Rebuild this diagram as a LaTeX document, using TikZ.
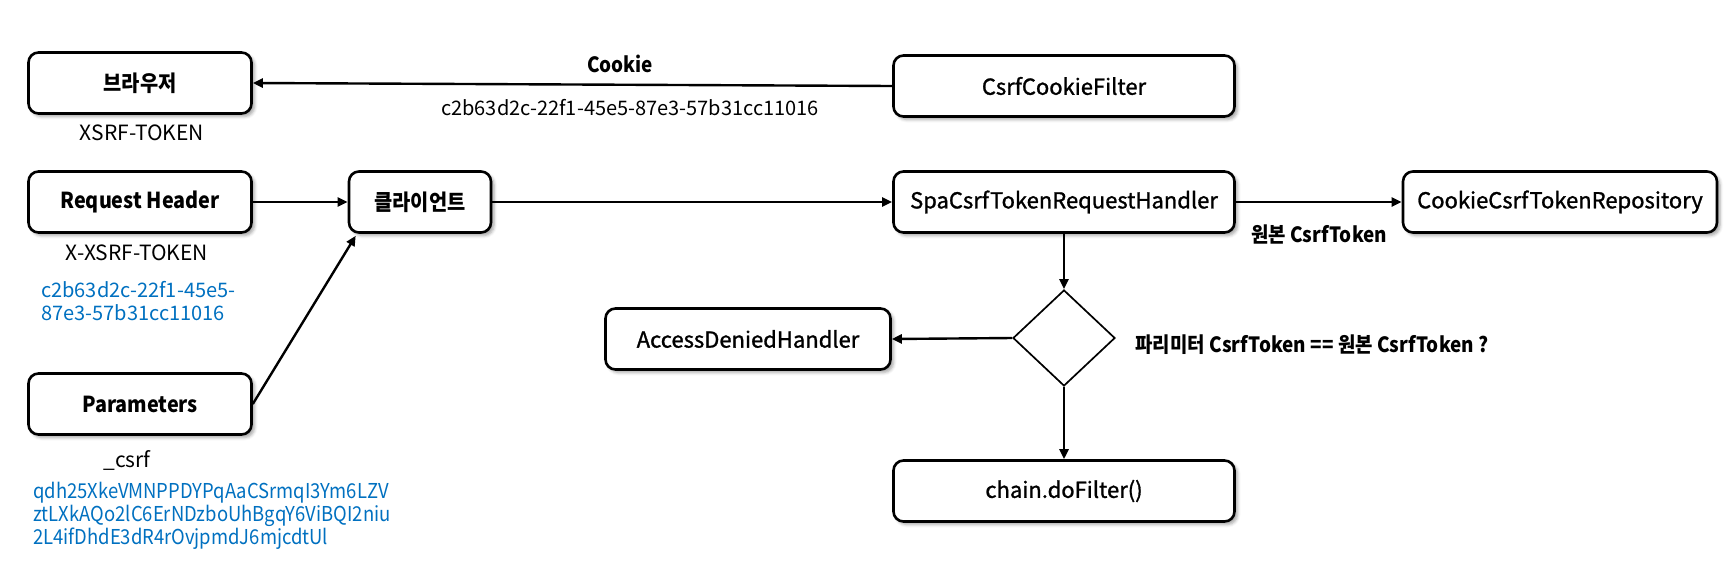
\documentclass[tikz,border=0pt]{standalone}
\usepackage{fontspec}
\setmainfont{Noto Sans CJK KR}
\newfontfamily\narrowfont{Noto Sans CJK KR}[FakeStretch=0.9]
\newfontfamily\medfont{Noto Sans CJK KR}[FakeBold=1.2]
\usetikzlibrary{arrows.meta,shapes.geometric,shadows.blur}
\definecolor{hashblue}{RGB}{0,112,192}
\begin{document}
\begin{tikzpicture}[x=1pt,y=-1pt,
  box/.style={draw, line width=2.6pt, rounded corners=10pt, fill=white, inner sep=0pt,
    font=\medfont\fontsize{22}{26}\selectfont,
    blur shadow={shadow xshift=3pt, shadow yshift=-3pt, shadow blur radius=3pt, shadow opacity=35}},
  bbox/.style={box, font=\narrowfont\fontsize{22}{26}\selectfont\bfseries},
  arr/.style={line width=2.4pt, -{Triangle[length=10pt,width=9pt]}},
  lbl/.style={inner sep=0pt, font=\fontsize{21}{25}\selectfont},
  blbl/.style={inner sep=0pt, font=\narrowfont\fontsize{21}{25}\selectfont\bfseries},
  hash/.style={inner sep=0pt, text=hashblue, align=left, anchor=west, font=\fontsize{20}{23}\selectfont}]
\useasboundingbox (0,0) rectangle (1731,579);
% boxes
\node[bbox, minimum width=223pt, minimum height=61pt] (br) at (140,83) {브라우저};
\node[bbox, minimum width=223pt, minimum height=61pt] (rh) at (140,202) {Request Header};
\node[bbox, minimum width=142pt, minimum height=61pt] (cl) at (420,202) {클라이언트};
\node[bbox, minimum width=223pt, minimum height=61pt] (pa) at (140,404) {Parameters};
\node[box, minimum width=341pt, minimum height=61pt] (ccf) at (1064,86) {CsrfCookieFilter};
\node[box, minimum width=341pt, minimum height=61pt] (spa) at (1064,202) {SpaCsrfTokenRequestHandler};
\node[box, minimum width=314pt, minimum height=61pt] (ccr) at (1560,202) {CookieCsrfTokenRepository};
\node[box, minimum width=285pt, minimum height=61pt] (adh) at (748,339) {AccessDeniedHandler};
\node[box, minimum width=341pt, minimum height=61pt] (chain) at (1064,491) {chain.doFilter()};
\node[draw, diamond, line width=1.7pt, minimum width=102pt, minimum height=96pt, inner sep=0pt] (dia) at (1064,338) {};
% labels
\node[blbl] (cookie) at (620,64) {Cookie};
\node[lbl, font=\fontsize{20}{24}\selectfont] (cookiehash) at (630,108) {c2b63d2c-22f1-45e5-87e3-57b31cc11016};
\node[lbl] (xsrf) at (142,133) {XSRF-TOKEN};
\node[lbl] (xxsrf) at (137,253) {X-XSRF-TOKEN};
\node[hash] (hhash) at (41,301.5) {c2b63d2c-22f1-45e5-\\87e3-57b31cc11016};
\node[lbl] (csrf) at (127,460) {\_csrf};
\node[hash, font=\narrowfont\fontsize{20.5}{23}\selectfont] (phash) at (33,516) {qdh25XkeVMNPPDYPqAaCSrmqI3Ym6LZV\\ztLXkAQo2lC6ErNDzboUhBgqY6ViBQI2niu\\2L4ifDhdE3dR4rOvjpmdJ6mjcdtUl};
\node[blbl] (orig) at (1319,234) {원본 CsrfToken};
\node[blbl] (cond) at (1312,345) {파리미터 CsrfToken == 원본 CsrfToken ?};
% connectors
\draw[arr] (ccf.west) -- (br.east);
\draw[arr] (rh.east) -- (cl.west);
\coordinate (clin) at ([xshift=8pt,yshift=-2pt]cl.south west);
\draw[arr] (pa.east) -- (clin);
\draw[arr] (cl.east) -- (spa.west);
\draw[arr] (spa.east) -- (ccr.west);
\draw[arr] (spa.south) -- (dia.north);
\draw[arr] (dia.west) -- (adh.east);
\draw[arr] (dia.south) -- (chain.north);
\end{tikzpicture}
\end{document}
